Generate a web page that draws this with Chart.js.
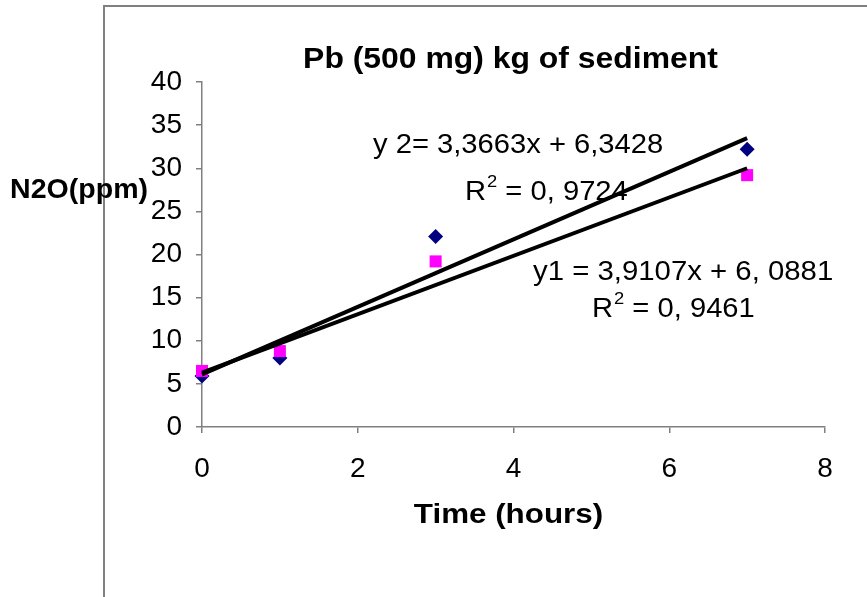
<!DOCTYPE html>
<html>
<head>
<meta charset="utf-8">
<script src="https://cdn.jsdelivr.net/npm/chart.js@4.4.1/dist/chart.umd.min.js"></script>
<style>
  html, body { margin: 0; padding: 0; background: #fff; }
  #wrap { width: 867px; height: 597px; }
</style>
</head>
<body>
<div id="wrap"><canvas id="chart" width="867" height="597"></canvas></div>
<script>
const hours = [0, 1, 3, 7];
const seriesBlue = [5.9, 8.0, 22.1, 32.2];
const seriesPink = [6.5, 8.8, 19.2, 29.2];
const trendX = [0, 7];
const trendUpper = [6.1, 33.5];
const trendLower = [6.3, 30.0];
const xTicks = [0, 2, 4, 6, 8];
const yTicks = [0, 5, 10, 15, 20, 25, 30, 35, 40];

const FONT = "'Liberation Sans', Arial, sans-serif";
const GRAY = "#808080";

function toPoints(xs, ys) {
  return xs.map((x, i) => ({ x, y: ys[i] }));
}

// text in the picture is a little wider than Arial, so stretch it horizontally
function stretchText(ctx, text, x, y, font, align, sx) {
  ctx.save();
  ctx.font = font;
  ctx.textAlign = align;
  ctx.textBaseline = "middle";
  ctx.translate(x, y);
  ctx.scale(sx, 1);
  ctx.fillText(text, 0, 0);
  const w = ctx.measureText(text).width * sx;
  ctx.restore();
  return w;
}

function drawRSquared(ctx, x, y, value) {
  const sx = 1.08;
  let w = stretchText(ctx, "R", x, y, `27px ${FONT}`, "left", sx);
  w += 1;
  w += stretchText(ctx, "2", x + w, y - 11, `17px ${FONT}`, "left", sx);
  stretchText(ctx, ` = ${value}`, x + w, y, `27px ${FONT}`, "left", sx);
}

// frame, title, axis titles and trendline equations
const annotationPlugin = {
  id: "excel-annotations",
  beforeDraw(chart) {
    const { ctx } = chart;
    ctx.save();
    ctx.strokeStyle = GRAY;
    ctx.lineWidth = 2;
    ctx.beginPath();
    ctx.moveTo(104, 597);
    ctx.lineTo(104, 6);
    ctx.lineTo(867, 6);
    ctx.stroke();
    ctx.restore();
  },
  afterDraw(chart) {
    const { ctx, chartArea } = chart;
    const cx = (chartArea.left + chartArea.right) / 2;
    ctx.save();
    ctx.fillStyle = "#000";
    stretchText(ctx, "Pb (500 mg) kg of sediment", cx - 3, 60, `bold 29px ${FONT}`, "center", 1.1);
    stretchText(ctx, "Time (hours)", cx - 5, 515, `bold 28px ${FONT}`, "center", 1.12);
    stretchText(ctx, "N2O(ppm)", 10, 190, `bold 28px ${FONT}`, "left", 1.02);

    stretchText(ctx, "y 2= 3,3663x + 6,3428", 373, 146, `27px ${FONT}`, "left", 1.08);
    drawRSquared(ctx, 465, 193, "0, 9724");
    stretchText(ctx, "y1 = 3,9107x + 6, 0881", 533, 273, `27px ${FONT}`, "left", 1.087);
    drawRSquared(ctx, 592, 310, "0, 9461");
    ctx.restore();
  },
};

new Chart(document.getElementById("chart"), {
  type: "scatter",
  data: {
    datasets: [
      {
        label: "trend y1",
        type: "line",
        data: toPoints(trendX, trendUpper),
        borderColor: "#000",
        borderWidth: 4,
        pointRadius: 0,
        fill: false,
        clip: false,
      },
      {
        label: "trend y2",
        type: "line",
        data: toPoints(trendX, trendLower),
        borderColor: "#000",
        borderWidth: 4,
        pointRadius: 0,
        fill: false,
        clip: false,
      },
      {
        label: "series 2",
        data: toPoints(hours, seriesPink),
        pointStyle: "rect",
        pointRadius: 8.5,
        backgroundColor: "#ff00ff",
        borderColor: "#ff00ff",
        borderWidth: 0,
        clip: false,
      },
      {
        label: "series 1",
        data: toPoints(hours, seriesBlue),
        pointStyle: "rectRot",
        pointRadius: 7.5,
        backgroundColor: "#000080",
        borderColor: "#000080",
        borderWidth: 0,
        clip: false,
      },
    ],
  },
  options: {
    responsive: false,
    animation: false,
    layout: { padding: { top: 82, right: 42, left: 0, bottom: 0 } },
    plugins: {
      legend: { display: false },
      title: { display: false },
      tooltip: { enabled: false },
    },
    scales: {
      x: {
        type: "linear",
        min: 0,
        max: 8,
        afterFit(scale) { scale.height = 170; },
        afterBuildTicks(scale) { scale.ticks = xTicks.map((value) => ({ value })); },
        border: { display: true, color: GRAY, width: 1.5 },
        grid: { drawOnChartArea: false, drawTicks: true, tickLength: 6, color: GRAY, lineWidth: 1.5 },
        ticks: { color: "#000", font: { family: FONT, size: 28 }, padding: 19, maxRotation: 0 },
      },
      y: {
        type: "linear",
        min: 0,
        max: 40,
        afterFit(scale) { scale.width = 202; },
        afterBuildTicks(scale) { scale.ticks = yTicks.map((value) => ({ value })); },
        border: { display: true, color: GRAY, width: 1.5 },
        grid: { drawOnChartArea: false, drawTicks: true, tickLength: 6, color: GRAY, lineWidth: 1.5 },
        ticks: { color: "#000", font: { family: FONT, size: 28 }, padding: 14 },
      },
    },
  },
  plugins: [annotationPlugin],
});
</script>
</body>
</html>
